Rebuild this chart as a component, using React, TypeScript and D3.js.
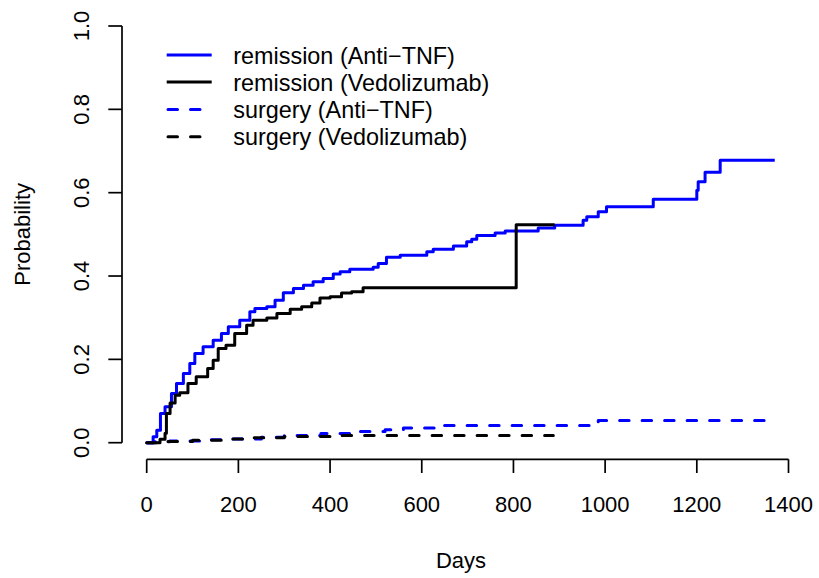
import React from "react";
import * as d3 from "d3";

const remissionAntiTNF: [number, number][] = [
  [0, 0], [14, 0.014], [22, 0.03], [30, 0.07], [40, 0.086], [54, 0.118], [65, 0.142],
  [80, 0.166], [94, 0.19], [105, 0.214], [123, 0.23], [145, 0.246], [163, 0.262],
  [178, 0.278], [203, 0.294], [225, 0.314], [236, 0.322], [262, 0.326], [280, 0.342],
  [298, 0.36], [320, 0.37], [342, 0.378], [363, 0.386], [385, 0.394], [407, 0.405],
  [422, 0.41], [443, 0.416], [494, 0.421], [505, 0.43], [523, 0.445], [553, 0.45],
  [611, 0.458], [625, 0.464], [669, 0.472], [698, 0.482], [709, 0.488], [720, 0.497],
  [760, 0.503], [782, 0.508], [854, 0.515], [890, 0.522], [952, 0.534], [960, 0.542],
  [985, 0.554], [1003, 0.566], [1105, 0.584], [1200, 0.606], [1203, 0.626],
  [1218, 0.649], [1251, 0.678], [1370, 0.678],
];

const remissionVedolizumab: [number, number][] = [
  [0, 0], [29, 0.008], [40, 0.0225], [43, 0.07], [51, 0.095], [62, 0.114], [72, 0.12],
  [90, 0.142], [108, 0.158], [133, 0.178], [145, 0.198], [156, 0.226], [173, 0.234],
  [192, 0.262], [218, 0.282], [232, 0.294], [262, 0.299], [284, 0.31], [313, 0.32],
  [338, 0.326], [360, 0.335], [378, 0.347], [400, 0.35], [425, 0.359], [447, 0.362],
  [472, 0.372], [806, 0.523], [890, 0.523],
];

const surgeryAntiTNF: [number, number][] = [
  [0, 0], [15, 0.002], [50, 0.004], [120, 0.007], [170, 0.009], [250, 0.013],
  [300, 0.017], [380, 0.022], [450, 0.027], [520, 0.031], [560, 0.035], [630, 0.041],
  [985, 0.053], [1370, 0.053],
];

const surgeryVedolizumab: [number, number][] = [
  [0, 0], [40, 0.003], [100, 0.006], [170, 0.009], [230, 0.012], [300, 0.015],
  [400, 0.017], [887, 0.017],
];

const xTicks = [0, 200, 400, 600, 800, 1000, 1200, 1400];
const yTicks = [0, 0.2, 0.4, 0.6, 0.8, 1.0];

const legendLabels = [
  "remission (Anti\u2212TNF)",
  "remission (Vedolizumab)",
  "surgery (Anti\u2212TNF)",
  "surgery (Vedolizumab)",
];

const BLUE = "#0000FF";
const BLACK = "#000000";
const DASH = "9.5 13";

export default function App() {
  const W = 819;
  const H = 578;
  const x = d3.scaleLinear().domain([0, 1400]).range([146.7, 788.5]);
  const y = d3.scaleLinear().domain([0, 1]).range([442.7, 26]);
  const line = d3
    .line<[number, number]>()
    .x((d) => x(d[0]))
    .y((d) => y(d[1]))
    .curve(d3.curveStepAfter);

  const font = "'Liberation Sans', Arial, Helvetica, sans-serif";
  const fs = 22;
  const legendFs = 23.4;
  const axisY = 459.3;
  const axisX = 122;
  const tick = 13.7;

  const series = [
    { data: remissionAntiTNF, color: BLUE, dash: undefined as string | undefined },
    { data: remissionVedolizumab, color: BLACK, dash: undefined },
    { data: surgeryAntiTNF, color: BLUE, dash: DASH },
    { data: surgeryVedolizumab, color: BLACK, dash: DASH },
  ];

  const legendY = [55, 82, 109.5, 136.7];

  return (
    <svg
      width={W}
      height={H}
      style={{ position: "absolute", left: 0, top: 0, background: "#fff" }}
      fontFamily={font}
    >
      <rect x={0} y={0} width={W} height={H} fill="#fff" />
      {series.map((s, i) => (
        <path
          key={i}
          d={line(s.data) || ""}
          fill="none"
          stroke={s.color}
          strokeWidth={3}
          strokeDasharray={s.dash}
          strokeLinecap={s.dash ? "round" : "butt"}
          strokeLinejoin="round"
        />
      ))}
      <line x1={x(0)} x2={x(1400)} y1={axisY} y2={axisY} stroke="#000" strokeWidth={1.7} />
      {xTicks.map((t) => (
        <g key={t}>
          <line x1={x(t)} x2={x(t)} y1={axisY} y2={axisY + tick} stroke="#000" strokeWidth={1.7} />
          <text x={x(t)} y={511.5} fontSize={fs} textAnchor="middle" fill="#000">
            {t}
          </text>
        </g>
      ))}
      <line x1={axisX} x2={axisX} y1={y(0)} y2={y(1)} stroke="#000" strokeWidth={1.7} />
      {yTicks.map((t) => (
        <g key={t}>
          <line x1={axisX - tick} x2={axisX} y1={y(t)} y2={y(t)} stroke="#000" strokeWidth={1.7} />
          <text
            transform={`translate(88.5, ${y(t)}) rotate(-90)`}
            fontSize={fs}
            textAnchor="middle"
            fill="#000"
          >
            {t.toFixed(1)}
          </text>
        </g>
      ))}
      <text x={461} y={568.3} fontSize={fs} textAnchor="middle" fill="#000">
        Days
      </text>
      <text
        transform={`translate(30, ${y(0.5)}) rotate(-90)`}
        fontSize={fs}
        textAnchor="middle"
        fill="#000"
      >
        Probability
      </text>
      {legendLabels.map((lab, i) => (
        <g key={lab}>
          <line
            x1={series[i].dash ? 168 : 166.7}
            x2={series[i].dash ? 210.5 : 211.7}
            y1={legendY[i]}
            y2={legendY[i]}
            stroke={series[i].color}
            strokeWidth={3}
            strokeDasharray={series[i].dash}
            strokeLinecap={series[i].dash ? "round" : "butt"}
          />
          <text x={233.3} y={legendY[i] + 8.5} fontSize={legendFs} fill="#000">
            {lab}
          </text>
        </g>
      ))}
    </svg>
  );
}
